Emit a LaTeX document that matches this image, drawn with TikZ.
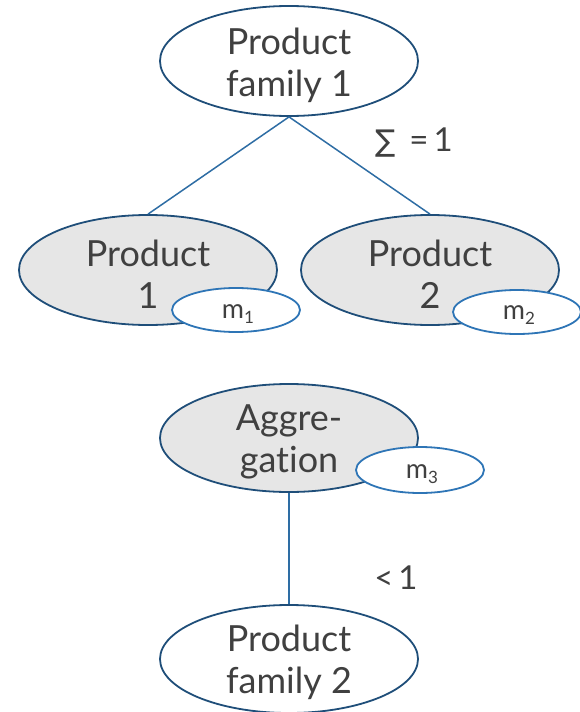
\documentclass[tikz,border=0pt]{standalone}
\usepackage{fontspec}
\setmainfont[Ligatures=CommonOff]{Lato}
\newfontfamily\symfont{DejaVu Sans}
\usetikzlibrary{shapes.geometric}
\definecolor{edgeblue}{HTML}{1F4E79}
\definecolor{lineblue}{HTML}{2E6DA4}
\definecolor{tagblue}{HTML}{2E75B6}
\definecolor{textgray}{HTML}{404040}
\definecolor{fillgray}{HTML}{E6E6E6}
\tikzset{
  x=1pt, y=1pt,
  bigoval/.style={ellipse, draw=edgeblue, line width=1.8pt, inner sep=0pt,
    minimum width=258pt, minimum height=110pt},
  greyoval/.style={bigoval, fill=fillgray},
  bigtext/.style={align=center, inner sep=0pt, text=textgray,
    font=\fontsize{36}{42}\selectfont},
  tagoval/.style={ellipse, draw=tagblue, line width=1.8pt, fill=white,
    inner sep=0pt, minimum width=128pt, minimum height=44pt},
  tagtext/.style={inner sep=0pt, text=textgray,
    font=\fontsize{27}{28}\selectfont},
  link/.style={draw=lineblue, line width=1.5pt},
  note/.style={text=textgray, font=\fontsize{33}{34}\selectfont}
}
\newcommand{\tagsub}[1]{m\raisebox{-0.4ex}{\fontsize{17}{17}\selectfont #1}}
\begin{document}
\begin{tikzpicture}
\useasboundingbox (0,0) rectangle (580,-712);
% upper tree
\node[bigoval]  (fam1) at (289,-61)  {};
\node[greyoval] (p1)   at (148,-270) {};
\node[greyoval] (p2)   at (430,-270) {};
\draw[link] (fam1.south) -- (p1.north);
\draw[link] (fam1.south) -- (p2.north);
\node[bigtext] (fam1t) at ([yshift=-4pt]fam1.center) {Product\\family 1};
\node[bigtext] (p1t) at ([yshift=-4pt]p1.center) {Product\\1};
\node[bigtext] (p2t) at ([yshift=-4pt]p2.center) {Product\\2};
\node[tagoval] (m1) at (236,-310) {};
\node[tagoval] (m2) at (517,-312) {};
\node[tagtext] (m1t) at ([xshift=2pt,yshift=-4pt]m1.center) {\tagsub{1}};
\node[tagtext] (m2t) at ([xshift=2pt,yshift=-3pt]m2.center) {\tagsub{2}};
\node[note] (sum) at (414,-143) {{\symfont\fontsize{30}{30}\selectfont ∑}\hspace{14pt}=\hspace{5pt}1};
% lower tree
\node[greyoval, minimum height=108pt] (agg) at (289,-438) {};
\node[bigoval, minimum height=108pt] (fam2) at (289,-659) {};
\draw[link] (agg.south) -- (fam2.north);
\node[bigtext] (aggt) at ([yshift=-4pt]agg.center) {Aggre-\\gation};
\node[bigtext] (fam2t) at ([yshift=-3pt]fam2.center) {Product\\family 2};
\node[tagoval, minimum height=46pt] (m3) at (420,-470) {};
\node[tagtext] (m3t) at ([xshift=2pt,yshift=-4pt]m3.center) {\tagsub{3}};
\node[note] (lt) at (396,-578) {<\hspace{5pt}1};
\end{tikzpicture}
\end{document}
